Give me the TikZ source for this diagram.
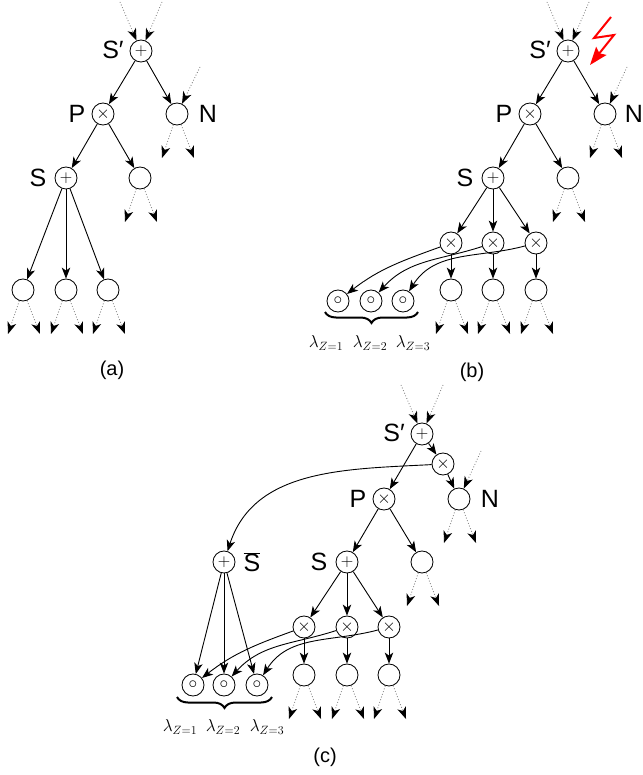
\documentclass[tikz,border=0pt]{standalone}
\usepackage{fontspec}
\newfontfamily\lblfont{Liberation Sans}
\usetikzlibrary{arrows.meta,calc,decorations.pathreplacing}
\newcommand\outs[1]{%
  \coordinate (#1o1) at ($(#1)+(-15,-44)$);
  \coordinate (#1o2) at ($(#1)+(17,-44)$);
  \draw[dotarr] (#1) -- (#1o1);
  \draw[dotarr] (#1) -- (#1o2);}
\newcommand\ins[3]{%
  \coordinate (#1i#3) at ($(#1)+(#2)$);
  \draw[dotarr] (#1i#3) -- (#1);}
\begin{document}
\begin{tikzpicture}[x=1pt,y=1pt,
  nd/.style={circle,draw,line width=0.85pt,minimum size=22pt,inner sep=0pt},
  sum/.style={nd,font=\fontsize{18}{18}\selectfont},
  prd/.style={nd,font=\fontsize{16}{16}\selectfont},
  ind/.style={nd,font=\fontsize{18}{18}\selectfont},
  lbl/.style={font=\lblfont\fontsize{25}{25}\selectfont,inner sep=0pt},
  captxt/.style={font=\lblfont\fontsize{20}{20}\selectfont,inner sep=0pt},
  lam/.style={font=\fontsize{17.5}{17.5}\selectfont,inner sep=0pt},
  arr/.style={-{Stealth[length=11pt,width=8.5pt,inset=3pt]},line width=0.9pt},
  dotarr/.style={draw=gray,dotted,line width=0.85pt,-{Stealth[length=12pt,width=9pt,inset=3.5pt,color=black]}},
  brc/.style={decorate,decoration={brace,mirror,amplitude=11pt},line width=2pt}]
\useasboundingbox (0,0) rectangle (642,-775);

% ---------------- panel (a)
\node[sum] (aS1) at (141,-51) {$+$};
\node[prd] (aP) at (103,-114) {$\times$};
\node[nd] (aN) at (177,-114) {};
\node[sum] (aS) at (66,-178) {$+$};
\node[nd] (aR) at (140,-178) {};
\node[nd] (aL1) at (23,-290) {};
\node[nd] (aL2) at (66,-290) {};
\node[nd] (aL3) at (108,-290) {};
\node[lbl] (aS1t) at ($(aS1)+(-28,1)$) {S′};
\node[lbl] (aPt) at ($(aP)+(-26,0)$) {P};
\node[lbl] (aNt) at ($(aN)+(31,0)$) {N};
\node[lbl] (aSt) at ($(aS)+(-28,0)$) {S};
\draw[arr] (aS1) -- (aP);
\draw[arr] (aS1) -- (aN);
\draw[arr] (aP) -- (aS);
\draw[arr] (aP) -- (aR);
\draw[arr] (aS) -- (aL1);
\draw[arr] (aS) -- (aL2);
\draw[arr] (aS) -- (aL3);
\ins{aS1}{-21,49}{1}
\ins{aS1}{21,49}{2}
\ins{aN}{23,47}{1}
\outs{aN}\outs{aR}\outs{aL1}\outs{aL2}\outs{aL3}
\node[captxt] (capa) at (112,-370) {(a)};

% ---------------- panel (b)
\node[sum] (bS1) at (568,-51) {$+$};
\node[prd] (bP) at (530,-114) {$\times$};
\node[nd] (bN) at (605,-114) {};
\node[sum] (bS) at (493,-178) {$+$};
\node[nd] (bR) at (568,-178) {};
\node[prd] (bX1) at (451,-243) {$\times$};
\node[prd] (bX2) at (493,-243) {$\times$};
\node[prd] (bX3) at (536,-243) {$\times$};
\node[nd] (bL1) at (451,-290) {};
\node[nd] (bL2) at (493,-290) {};
\node[nd] (bL3) at (536,-290) {};
\node[ind] (bZ1) at (338,-301) {$\circ$};
\node[ind] (bZ2) at (371,-301) {$\circ$};
\node[ind] (bZ3) at (403,-301) {$\circ$};
\node[lbl] (bS1t) at ($(bS1)+(-28,1)$) {S′};
\node[lbl] (bPt) at ($(bP)+(-26,0)$) {P};
\node[lbl] (bNt) at ($(bN)+(29,0)$) {N};
\node[lbl] (bSt) at ($(bS)+(-28,0)$) {S};
\draw[arr] (bS1) -- (bP);
\draw[arr] (bS1) -- (bN);
\draw[arr] (bP) -- (bS);
\draw[arr] (bP) -- (bR);
\draw[arr] (bS) -- (bX1);
\draw[arr] (bS) -- (bX2);
\draw[arr] (bS) -- (bX3);
\draw[arr] (bX1) -- (bL1);
\draw[arr] (bX2) -- (bL2);
\draw[arr] (bX3) -- (bL3);
\draw[arr] (bX1) to[out=200,in=38] (bZ1);
\draw[arr] (bX2) to[out=198,in=48] (bZ2);
\draw[arr] (bX3) to[out=195,in=58] (bZ3);
\ins{bS1}{-21,49}{1}
\ins{bS1}{21,49}{2}
\ins{bN}{22,47}{1}
\outs{bN}\outs{bR}\outs{bL1}\outs{bL2}\outs{bL3}
\coordinate (bB1) at (325,-312);
\coordinate (bB2) at (418,-312);
\draw[brc] (bB1) -- (bB2);
\node[lam] (bl1) at (326,-343) {$\lambda_{Z=1}$};
\node[lam] (bl2) at (370,-343) {$\lambda_{Z=2}$};
\node[lam] (bl3) at (413,-343) {$\lambda_{Z=3}$};
\draw[red,line width=2pt,line join=miter,-{Stealth[length=18pt,width=13pt,inset=3pt]}]
  (611,-17) -- (594,-38) -- (614,-35) -- (590,-65);
\node[captxt] (capb) at (472,-372) {(b)};

% ---------------- panel (c)
\node[sum] (cS1) at (422,-434) {$+$};
\node[prd] (cX0) at (443,-464) {$\times$};
\node[nd] (cN) at (459,-499) {};
\node[prd] (cP) at (384,-499) {$\times$};
\node[sum] (cSb) at (224,-562) {$+$};
\node[sum] (cS) at (347,-562) {$+$};
\node[nd] (cR) at (422,-562) {};
\node[prd] (cX1) at (304,-627) {$\times$};
\node[prd] (cX2) at (347,-627) {$\times$};
\node[prd] (cX3) at (389,-627) {$\times$};
\node[nd] (cL1) at (304,-675) {};
\node[nd] (cL2) at (347,-675) {};
\node[nd] (cL3) at (389,-675) {};
\node[ind] (cZ1) at (193,-685) {$\circ$};
\node[ind] (cZ2) at (224,-685) {$\circ$};
\node[ind] (cZ3) at (257,-685) {$\circ$};
\node[lbl] (cS1t) at ($(cS1)+(-28,1)$) {S′};
\node[lbl] (cPt) at ($(cP)+(-26,0)$) {P};
\node[lbl] (cNt) at ($(cN)+(31,0)$) {N};
\node[lbl] (cSt) at ($(cS)+(-28,0)$) {S};
\node[lbl] (cSbt) at ($(cSb)+(28,0)$) {$\overline{\hbox{S}}$};
\draw[arr] (cS1) -- (cP);
\draw[arr] (cS1) -- (cX0);
\draw[arr] (cX0) -- (cN);
\draw[arr] (cX0) to[out=183,in=72] (cSb);
\draw[arr] (cP) -- (cS);
\draw[arr] (cP) -- (cR);
\draw[arr] (cS) -- (cX1);
\draw[arr] (cS) -- (cX2);
\draw[arr] (cS) -- (cX3);
\draw[arr] (cX1) -- (cL1);
\draw[arr] (cX2) -- (cL2);
\draw[arr] (cX3) -- (cL3);
\draw[arr] (cX1) to[out=200,in=38] (cZ1);
\draw[arr] (cX2) to[out=198,in=48] (cZ2);
\draw[arr] (cX3) to[out=195,in=58] (cZ3);
\draw[arr] (cSb) -- (cZ1);
\draw[arr] (cSb) -- (cZ2);
\draw[arr] (cSb) -- (cZ3);
\ins{cS1}{-21,49}{1}
\ins{cS1}{21,49}{2}
\ins{cN}{22,48}{1}
\outs{cN}\outs{cR}\outs{cL1}\outs{cL2}\outs{cL3}
\coordinate (cB1) at (177,-697);
\coordinate (cB2) at (272,-697);
\draw[brc] (cB1) -- (cB2);
\node[lam] (cl1) at (180,-727) {$\lambda_{Z=1}$};
\node[lam] (cl2) at (223,-727) {$\lambda_{Z=2}$};
\node[lam] (cl3) at (267,-727) {$\lambda_{Z=3}$};
\node[captxt] (capc) at (325,-757) {(c)};
\end{tikzpicture}
\end{document}
